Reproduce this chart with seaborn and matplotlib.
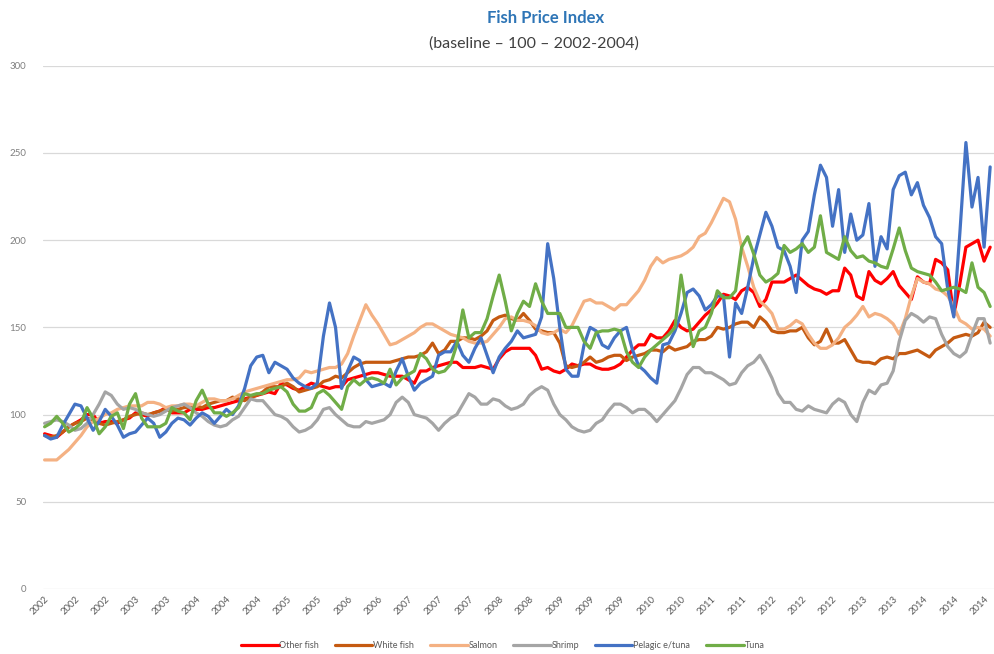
import seaborn as sns
import pandas as pd
import numpy as np
import matplotlib.pyplot as plt
from matplotlib.lines import Line2D

# monthly index values, Jan 2002 .. Jan 2015
other_fish = [89, 88, 87, 90, 93, 95, 97, 100, 100, 95, 96, 96,
              95, 97, 98, 101, 100, 99, 101, 102, 104, 101, 101, 101,
              103, 103, 103, 104, 104, 105, 106, 107, 108, 109, 110, 111,
              112, 113, 112, 118, 117, 115, 114, 116, 118, 117, 116, 115,
              116, 116, 120, 121, 122, 123, 124, 124, 123, 122, 122, 122,
              120, 118, 125, 125, 127, 128, 129, 130, 130, 127, 127, 127,
              128, 127, 126, 132, 136, 138, 138, 138, 138, 134, 126, 127,
              125, 124, 126, 129, 128, 129, 129, 127, 126, 126, 127, 129,
              133, 137, 140, 140, 146, 144, 144, 148, 154, 150, 148, 149,
              153, 157, 160, 164, 169, 168, 166, 171, 173, 170, 162, 166,
              176, 176, 176, 178, 180, 177, 174, 172, 171, 169, 171, 171,
              184, 180, 168, 166, 182, 177, 175, 178, 182, 174, 170, 166,
              179, 176, 175, 189, 187, 183, 157, 175, 196, 198, 200, 188,
              196]
white_fish = [88, 87, 88, 90, 93, 95, 96, 98, 97, 95, 94, 95,
              96, 97, 99, 100, 101, 100, 101, 102, 103, 102, 103, 104,
              104, 105, 104, 106, 107, 108, 108, 110, 109, 108, 110, 111,
              113, 116, 116, 116, 118, 116, 113, 114, 115, 116, 119, 120,
              122, 121, 124, 127, 129, 130, 130, 130, 130, 130, 131, 132,
              133, 133, 134, 136, 141, 135, 137, 142, 142, 144, 144, 143,
              145, 148, 154, 156, 157, 155, 154, 158, 154, 149, 148, 147,
              147, 141, 128, 127, 128, 130, 133, 130, 131, 133, 134, 134,
              131, 133, 134, 135, 137, 137, 136, 139, 137, 138, 139, 142,
              143, 143, 145, 150, 149, 150, 152, 153, 153, 150, 156, 153,
              148, 147, 147, 148, 148, 150, 144, 140, 142, 149, 141, 141,
              143, 137, 131, 130, 130, 129, 132, 133, 132, 135, 135, 136,
              137, 135, 133, 137, 139, 141, 144, 145, 146, 145, 147, 153,
              150]
salmon = [74, 74, 74, 77, 80, 84, 88, 93, 96, 98, 100, 101,
          103, 104, 105, 105, 105, 107, 107, 106, 104, 105, 105, 106,
          106, 105, 107, 109, 109, 108, 108, 109, 111, 113, 114, 115,
          116, 117, 118, 119, 120, 120, 121, 125, 124, 125, 126, 127,
          127, 129, 135, 145, 154, 163, 157, 152, 146, 140, 141, 143,
          145, 147, 150, 152, 152, 150, 148, 146, 145, 144, 142, 141,
          141, 142, 146, 150, 155, 156, 154, 154, 153, 151, 147, 146,
          147, 149, 147, 151, 158, 165, 166, 164, 164, 162, 160, 163,
          163, 167, 171, 177, 185, 190, 187, 189, 190, 191, 193, 196,
          202, 204, 210, 217, 224, 222, 212, 196, 185, 173, 165, 162,
          158, 149, 149, 151, 154, 152, 146, 141, 138, 138, 140, 144,
          150, 153, 157, 162, 156, 158, 157, 155, 152, 146, 155, 168,
          178, 176, 175, 172, 171, 168, 162, 154, 152, 149, 150, 149,
          145]
shrimp = [95, 96, 97, 96, 94, 91, 92, 95, 100, 106, 113, 111,
          106, 103, 104, 103, 101, 100, 99, 100, 102, 104, 105, 106,
          104, 101, 99, 96, 94, 93, 94, 97, 99, 104, 109, 108,
          108, 104, 100, 99, 97, 93, 90, 91, 93, 97, 103, 104,
          100, 97, 94, 93, 93, 96, 95, 96, 97, 100, 107, 110,
          107, 100, 99, 98, 95, 91, 95, 98, 100, 106, 112, 110,
          106, 106, 109, 108, 105, 103, 104, 106, 111, 114, 116, 114,
          106, 100, 97, 93, 91, 90, 91, 95, 97, 102, 106, 106,
          104, 101, 103, 103, 100, 96, 100, 104, 108, 115, 123, 127,
          127, 124, 124, 122, 120, 117, 118, 124, 128, 130, 134, 128,
          121, 112, 107, 107, 103, 102, 105, 103, 102, 101, 106, 109,
          107, 100, 96, 107, 114, 112, 117, 118, 125, 142, 154, 158,
          156, 153, 156, 155, 146, 139, 135, 133, 136, 146, 155, 155,
          141]
pelagic = [88, 86, 87, 94, 100, 106, 105, 98, 91, 96, 103, 99,
           94, 87, 89, 90, 94, 98, 95, 87, 90, 95, 98, 97,
           94, 98, 101, 99, 95, 99, 103, 100, 105, 115, 128, 133,
           134, 124, 130, 128, 126, 121, 118, 116, 115, 118, 145, 164,
           150, 115, 125, 133, 131, 120, 116, 117, 118, 116, 125, 132,
           122, 114, 118, 120, 122, 134, 136, 136, 142, 134, 130, 138,
           144, 134, 124, 133, 138, 142, 148, 144, 145, 146, 156, 198,
           178, 150, 126, 122, 122, 140, 150, 148, 140, 138, 144, 148,
           150, 137, 128, 125, 121, 118, 140, 141, 148, 158, 170, 172,
           168, 160, 163, 168, 168, 133, 164, 158, 173, 190, 203, 216,
           208, 196, 194, 185, 170, 200, 205, 226, 243, 236, 208, 229,
           193, 215, 200, 203, 221, 185, 202, 195, 229, 237, 239, 226,
           233, 220, 213, 202, 198, 172, 156, 204, 256, 219, 236, 196,
           242]
tuna = [93, 95, 99, 95, 90, 92, 95, 104, 98, 89, 93, 99,
        101, 92, 106, 112, 98, 93, 93, 93, 95, 104, 102, 101,
        97, 108, 114, 106, 101, 101, 99, 101, 104, 112, 111, 112,
        112, 114, 115, 116, 113, 106, 102, 102, 104, 112, 114, 111,
        107, 103, 116, 120, 117, 120, 121, 120, 118, 126, 117, 121,
        123, 125, 135, 132, 126, 124, 125, 129, 140, 160, 144, 147,
        147, 155, 168, 180, 165, 148, 158, 165, 162, 175, 165, 158,
        158, 158, 150, 150, 150, 142, 138, 147, 148, 148, 149, 148,
        136, 130, 127, 133, 137, 140, 143, 146, 150, 180, 158, 139,
        148, 150, 158, 171, 167, 167, 171, 196, 202, 192, 180, 176,
        178, 181, 197, 193, 195, 198, 193, 196, 214, 193, 191, 189,
        202, 194, 190, 191, 188, 187, 185, 184, 195, 207, 194, 184,
        182, 181, 180, 176, 171, 172, 173, 172, 170, 187, 173, 170,
        162]

series_names = ['Other fish', 'White fish', 'Salmon', 'Shrimp', 'Pelagic e/tuna', 'Tuna']
series_vals = [other_fish, white_fish, salmon, shrimp, pelagic, tuna]
colors = ['#FF0000', '#C55A11', '#F4B183', '#A5A5A5', '#4472C4', '#70AD47']

months = pd.date_range('2002-01-01', periods=len(other_fish), freq='MS')
tick_idx = list(range(0, 156, 5))
tick_labels = [str(months[i].year) for i in tick_idx]

rows = []
for name, vals in zip(series_names, series_vals):
    for i, v in enumerate(vals):
        rows.append({'month': i, 'value': v, 'series': name})
df = pd.DataFrame(rows)

sns.set_style('white')
plt.rcParams['font.family'] = ['Lato', 'DejaVu Sans']

fig = plt.figure(figsize=(9.95, 6.54), dpi=100)
ax = fig.add_axes([0.043, 0.0994, 0.957, 0.8])

sns.lineplot(data=df, x='month', y='value', hue='series', hue_order=series_names,
             palette=colors, linewidth=2.3, ax=ax, legend=False)

ax.set_ylim(0, 300)
ax.set_yticks(range(0, 301, 50))
ax.set_xlim(-0.3, 156.8)
ax.set_xticks(tick_idx)
ax.set_xticklabels(tick_labels, rotation=45, ha='right', rotation_mode='anchor',
                   fontsize=6.8, color='#595959')
ax.tick_params(axis='y', labelsize=7, labelcolor='#808080', length=0, pad=12)
ax.tick_params(axis='x', length=0, pad=4)
ax.grid(axis='y', color='#D9D9D9', linewidth=0.9)
ax.set_axisbelow(True)
for s in ax.spines.values():
    s.set_visible(False)
ax.set_xlabel('')
ax.set_ylabel('')

fig.text(0.548, 0.972, 'Fish Price Index', ha='center', va='center',
         fontsize=12, fontweight='bold', color='#2E75B6')
fig.text(0.537, 0.934, '(baseline \u2013 100 \u2013 2002-2004)', ha='center', va='center',
         fontsize=11.5, color='#404040')

handles = [Line2D([0], [0], color=c, linewidth=2.3) for c in colors]
fig.legend(handles, series_names, loc='center', bbox_to_anchor=(0.505, 0.013),
           ncol=6, frameon=False, fontsize=6.5, handlelength=4.2,
           handletextpad=0.1, columnspacing=1.7, labelcolor='#595959')

fig.savefig('out.png', dpi=100)
